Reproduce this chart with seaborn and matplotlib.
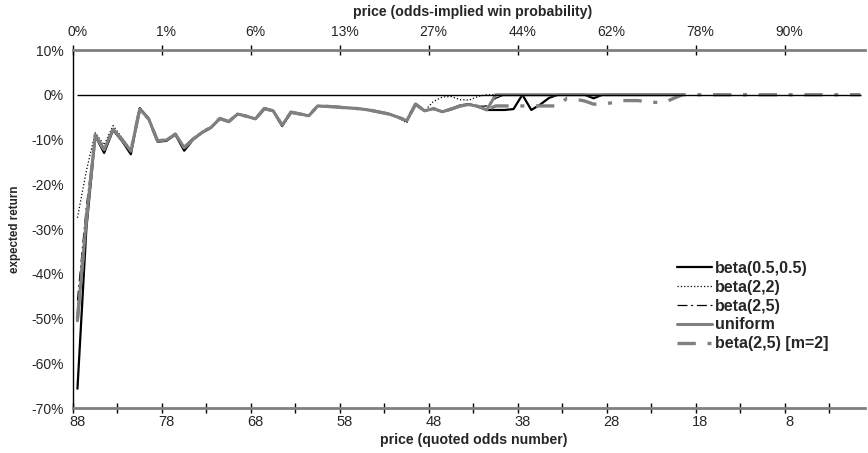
import numpy as np
import pandas as pd
import matplotlib
matplotlib.use("Agg")
import matplotlib.pyplot as plt
import seaborn as sns

# category axis: quoted odds number, from 88 down to 0
odds = np.arange(88, -1, -1)

bottom_ticks = odds[::10]
top_labels = ["0%", "1%", "6%", "13%", "27%", "44%", "62%", "78%", "90%"]
y_ticks = [10, 0, -10, -20, -30, -40, -50, -60, -70]

# expected return (%) for odds 88, 87, ... 20
beta_05_05 = [-65.7, -30.0, -9.2, -13.0, -7.9, -10.3, -13.3, -3.0, -5.3, -10.5,
              -10.3, -8.9, -12.5, -10.0, -8.5, -7.4, -5.4, -6.0, -4.3, -4.8,
              -5.4, -3.0, -3.6, -7.0, -3.9, -4.3, -4.7, -2.5, -2.6, -2.7,
              -2.9, -3.0, -3.2, -3.5, -3.9, -4.3, -5.0, -5.9, -2.1, -3.6,
              -3.1, -3.8, -3.2, -2.4, -2.1, -2.6, -3.4, -3.4, -3.4, -3.2,
              0.0, -3.4, -2.2, -0.7, 0.0, 0.0, 0.0, 0.0, -0.8, 0.0,
              0.0, 0.0, 0.0, 0.0, 0.0, 0.0, 0.0, 0.0, 0.0]
beta_2_2 = [-27.5, -17.0, -8.5, -11.2, -6.9, -9.6, -12.4, -3.2, -5.4, -10.2,
            -10.0, -8.7, -11.6, -9.8, -8.3, -7.2, -5.3, -6.0, -4.3, -4.8,
            -5.4, -3.1, -3.6, -6.6, -3.9, -4.3, -4.7, -2.5, -2.6, -2.7,
            -2.9, -3.0, -3.2, -3.5, -3.9, -4.3, -5.0, -6.3, -2.1, -3.6,
            -1.5, -0.5, -0.4, -1.1, -1.2, -0.4, 0.0, 0.0, 0.0, 0.0,
            0.0, 0.0, 0.0, 0.0, 0.0, 0.0, 0.0, 0.0, 0.0, 0.0,
            0.0, 0.0, 0.0, 0.0, 0.0, 0.0, 0.0, 0.0, 0.0]
beta_2_5 = [-46.0, -25.0, -9.0, -12.0, -7.5, -10.0, -12.6, -3.2, -5.4, -10.3,
            -10.1, -8.8, -11.8, -9.9, -8.4, -7.3, -5.3, -6.0, -4.3, -4.8,
            -5.4, -3.1, -3.6, -6.8, -3.9, -4.3, -4.7, -2.5, -2.6, -2.7,
            -2.9, -3.0, -3.2, -3.5, -3.9, -4.3, -5.0, -5.8, -2.1, -3.6,
            -3.1, -3.8, -3.2, -2.5, -2.2, -2.6, -2.5, -0.8, 0.0, 0.0,
            0.0, 0.0, 0.0, 0.0, 0.0, 0.0, 0.0, 0.0, 0.0, 0.0,
            0.0, 0.0, 0.0, 0.0, 0.0, 0.0, 0.0, 0.0, 0.0]
uniform = [-50.5, -28.0, -9.0, -12.3, -7.7, -10.0, -12.6, -3.2, -5.4, -10.3,
           -10.1, -8.8, -11.8, -9.9, -8.4, -7.3, -5.3, -6.0, -4.3, -4.8,
           -5.4, -3.1, -3.6, -6.8, -3.9, -4.3, -4.7, -2.5, -2.6, -2.7,
           -2.9, -3.0, -3.2, -3.5, -3.9, -4.3, -5.0, -5.8, -2.1, -3.6,
           -3.1, -3.8, -3.2, -2.5, -2.2, -2.6, -3.4, 0.0, 0.0, 0.0,
           0.0, 0.0, 0.0, 0.0, 0.0, 0.0, 0.0, 0.0, 0.0, 0.0,
           0.0, 0.0, 0.0, 0.0, 0.0, 0.0, 0.0, 0.0, 0.0]
# m=2 runs all the way to odds 0
beta_2_5_m2 = [-50.0, -28.0, -9.0, -12.3, -7.7, -10.0, -12.6, -3.2, -5.4, -10.3,
               -10.1, -8.8, -11.8, -9.9, -8.4, -7.3, -5.3, -6.0, -4.3, -4.8,
               -5.4, -3.1, -3.6, -6.8, -3.9, -4.3, -4.7, -2.5, -2.6, -2.7,
               -2.9, -3.0, -3.2, -3.5, -3.9, -4.3, -5.0, -5.8, -2.1, -3.6,
               -3.1, -3.8, -3.2, -2.5, -2.2, -2.6, -3.4, -2.5, -2.5, -2.5,
               -2.5, -2.5, -2.5, -2.5, -2.5, -0.8, -1.0, -1.4, -2.1, -2.1,
               -1.8, -1.3, -1.3, -1.3, -1.6, -1.7, -1.7, -0.8, 0.0, 0.0,
               0.0, 0.0, 0.0, 0.0, 0.0, 0.0, 0.0, 0.0, 0.0, 0.0,
               0.0, 0.0, 0.0, 0.0, 0.0, 0.0, 0.0, 0.0, 0.0]

series = [
    ("beta(0.5,0.5)", beta_05_05, "black", 1.6, "-"),
    ("beta(2,2)", beta_2_2, "black", 0.9, ":"),
    ("beta(2,5)", beta_2_5, "black", 0.9, (0, (8, 3, 1.5, 3))),
    ("uniform", uniform, "#808080", 2.2, "-"),
    ("beta(2,5) [m=2]", beta_2_5_m2, "#808080", 2.4, (0, (5.5, 3.5, 1.2, 3.5))),
]

frames = []
for name, vals, *_ in series:
    frames.append(pd.DataFrame({"series": name, "odds": odds[:len(vals)], "ret": vals}))
df = pd.concat(frames, ignore_index=True)

sns.set_style("white")
plt.rcParams["font.family"] = ["Liberation Sans", "DejaVu Sans"]
plt.rcParams["axes.unicode_minus"] = False

fig = plt.figure(figsize=(8.68, 4.53), dpi=100)
ax = fig.add_axes([73 / 868, 1 - 408 / 453, 792 / 868, 358 / 453])
ax2 = ax.twiny()  # top axis: odds-implied win probability

for name, vals, color, lw, ls in series:
    sns.lineplot(data=df[df["series"] == name], x="odds", y="ret", ax=ax,
                 color=color, lw=lw, linestyle=ls, label=name, sort=False,
                 estimator=None)

# zero reference line
ax.hlines(0, odds[0], odds[-1], color="black", lw=1, zorder=5)

ax.set_xlim(odds[0] + 0.5, odds[-1] - 0.5)
ax.set_ylim(y_ticks[-1], y_ticks[0])
ax.set_yticks(y_ticks)
ax.set_yticklabels([f"{v}%" for v in y_ticks], fontsize=10)
ax.tick_params(axis="y", direction="out", length=3.6, width=1, color="black", pad=3)

# bottom: tick marks between categories, labels on categories
ax.set_xticks(odds[::5] + 0.5)
ax.set_xticks(bottom_ticks, labels=[str(v) for v in bottom_ticks], minor=True)
ax.tick_params(axis="x", which="major", direction="inout", length=7, width=1,
               color="black", labelbottom=False)
ax.tick_params(axis="x", which="minor", length=0, pad=5, labelsize=10.5,
               labelbottom=True)

for side in ["top", "right"]:
    ax.spines[side].set_visible(False)
ax.spines["left"].set_color("black")
ax.spines["left"].set_linewidth(1)
ax.spines["bottom"].set_color("#808080")
ax.spines["bottom"].set_linewidth(2)

ax.set_xlabel("price (quoted odds number)", fontsize=10.2, fontweight="bold",
              va="center")
ax.xaxis.set_label_coords(0.506, -0.09)
ax.set_ylabel("expected return", fontsize=8.4, fontweight="bold", va="center")
ax.yaxis.set_label_coords(-0.073, 0.5)

ax2.set_xlim(ax.get_xlim())
ax2.set_xticks(bottom_ticks + 0.5)
ax2.set_xticks(bottom_ticks, labels=top_labels, minor=True)
ax2.tick_params(axis="x", which="major", direction="inout", length=7, width=1,
                color="black", labeltop=False)
ax2.tick_params(axis="x", which="minor", length=0, pad=8, labelsize=10,
                labeltop=True)
for side in ["bottom", "left", "right"]:
    ax2.spines[side].set_visible(False)
ax2.spines["top"].set_color("#808080")
ax2.spines["top"].set_linewidth(2)
ax2.set_xlabel("price (odds-implied win probability)", fontsize=10.2,
               fontweight="bold", va="center")
ax2.xaxis.set_label_coords(0.504, 1.106)

handles, labels = ax.get_legend_handles_labels()
ax.legend(handles, labels, loc="center left", bbox_to_anchor=(677 / 868, 1 - 306 / 453),
          bbox_transform=fig.transFigure, frameon=False, borderpad=0,
          borderaxespad=0, handlelength=2.2, handletextpad=0.2, labelspacing=0.25,
          prop={"weight": "bold", "size": 11.5})

fig.savefig("out.png", dpi=100)
